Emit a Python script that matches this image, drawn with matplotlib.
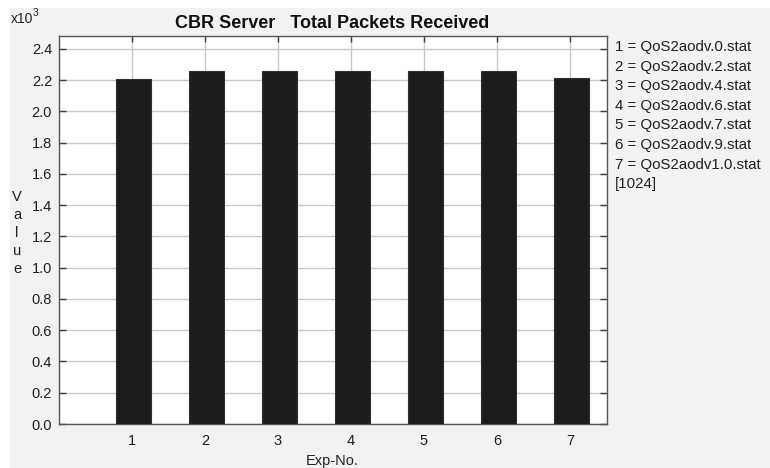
import numpy as np
import matplotlib
matplotlib.use('Agg')
import matplotlib.pyplot as plt
from matplotlib.patches import Rectangle

plt.rcParams['font.family'] = ['Liberation Sans', 'DejaVu Sans']

# packets received per experiment run
exp_no = [1, 2, 3, 4, 5, 6, 7]
received = [2208, 2256, 2256, 2256, 2256, 2256, 2216]
stat_files = ['QoS2aodv.0.stat', 'QoS2aodv.2.stat', 'QoS2aodv.4.stat',
              'QoS2aodv.6.stat', 'QoS2aodv.7.stat', 'QoS2aodv.9.stat',
              'QoS2aodv1.0.stat']
yticks = np.arange(0, 2.41, 0.2)

W, H = 770, 468
FS = 10.5
fig = plt.figure(figsize=(W / 100, H / 100), dpi=100, facecolor='white')
# grey panel behind everything
fig.patches.append(Rectangle((10 / W, 0), 1, 1 - 8 / H, transform=fig.transFigure,
                             facecolor='#f2f2f2', edgecolor='none', zorder=-10))

ax = fig.add_axes([59 / W, 44 / H, (606.5 - 59) / W, (424 - 36) / H])
ax.set_facecolor('white')

vals = np.array(received) / 1000.0
ax.bar(np.array(exp_no) + 0.02, vals, width=0.48, color='#1c1c1c',
       edgecolor='#303030', linewidth=0.8, zorder=3)

ax.set_xlim(0, 7.5)
ax.set_ylim(0, 2.483)
ax.set_xticks(exp_no)
ax.set_yticks(yticks)
ax.set_yticklabels(['%.1f' % v for v in yticks])
ax.grid(True, color='#c8c8c8', linewidth=1.0, zorder=0)
ax.set_axisbelow(True)

ax.tick_params(axis='x', which='both', top=True, bottom=False, direction='in',
               length=4, width=1, color='#404040', labelsize=FS, pad=7)
ax.tick_params(axis='y', which='both', left=True, right=True, direction='in',
               length=5, width=1, color='#404040', labelsize=FS, pad=5)
for lbl in ax.get_xticklabels() + ax.get_yticklabels():
    lbl.set_color('#202020')
for s in ax.spines.values():
    s.set_color('#555555')
    s.set_linewidth(1.0)

# title, exponent and axis names
fig.text(332 / W, 1 - 23.5 / H, 'CBR Server   Total Packets Received',
         ha='center', va='center', fontsize=13, fontweight='bold', color='#101010')
fig.text(11 / W, 1 - 19 / H, 'x10', ha='left', va='center', fontsize=FS - 0.5,
         color='#202020')
fig.text(33 / W, 1 - 13 / H, '3', ha='left', va='center', fontsize=7.5, color='#202020')
for i, ch in enumerate('Value'):
    fig.text(17 / W, 1 - (197 + i * 18) / H, ch, ha='center', va='center',
             fontsize=FS, color='#202020')
fig.text(332 / W, 1 - 461 / H, 'Exp-No.', ha='center', va='center',
         fontsize=FS, color='#202020')

# file list on the right
lines = ['%d = %s' % (n, f) for n, f in zip(exp_no, stat_files)] + ['[1024]']
for i, t in enumerate(lines):
    fig.text(615 / W, 1 - (47 + i * 19.6) / H, t, ha='left', va='center',
             fontsize=FS + 0.3, color='#202020')

fig.savefig('out.png', dpi=100)
